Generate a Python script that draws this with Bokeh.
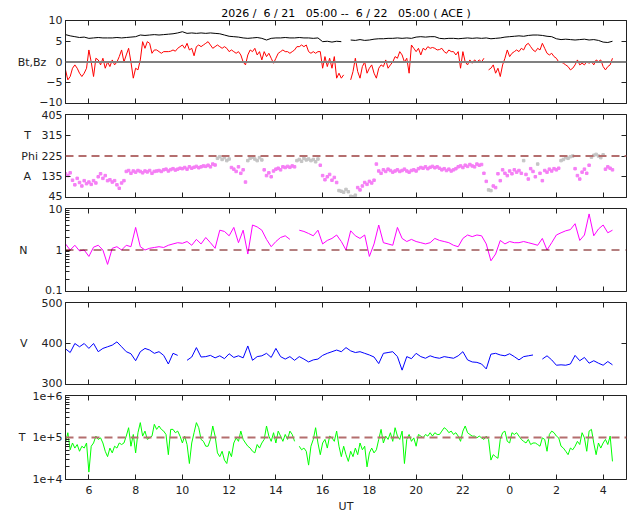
from bokeh.plotting import figure
from bokeh.layouts import column
from bokeh.models import Range1d, FixedTicker, LinearAxis, Span, CustomLabelingPolicy
from bokeh.embed import file_html
from bokeh.resources import INLINE

NaN = float("nan")

# ---------------- data ----------------
T_START = 5.0        # hours UT of first sample (21 June 05:00)
STEP = 0.2           # hours between samples (Bt, N, V)
FINE_STEP = 0.1      # hours between samples (Bz, Phi, T)
X_MIN, X_MAX = 5.0, 29.0
X_TICKS = [6, 8, 10, 12, 14, 16, 18, 20, 22, 24, 26, 28]
X_TICK_LABELS = ["6", "8", "10", "12", "14", "16", "18", "20", "22", "0", "2", "4"]

bt = [6.6, 6.3, 6.1, 5.9, 6.0, 5.7, 5.8, 5.9, 5.8, 5.8,
      5.8, 5.9, 5.8, 5.9, 6.0, 6.1, 6.5, 6.4, 6.5, 6.6,
      6.5, 6.6, 6.7, 6.8, 7.0, 7.3, 6.9, 7.0, 6.9, 7.0,
      6.9, 7.0, 6.9, 6.8, 6.5, 6.2, 6.1, 6.0, 5.8, 5.7,
      5.8, 5.9, 5.7, 5.3, 5.7, 5.8, 5.8, 5.9, 5.8, 5.8,
      5.9, 5.8, 5.8, 5.7, 5.8, 4.9, 5.0, 4.8, 5.0, 4.9,
      NaN, 5.3, 5.2, 5.4, 5.2, 5.3, 5.5, 5.6, 5.6, 5.7,
      5.7, 5.8, 5.7, 5.8, 5.7, 6.0, 6.1, 6.0, 6.1, 6.1,
      5.7, 5.6, 5.7, 5.7, 5.6, 5.7, 5.8, 5.7, 5.8, 5.7,
      5.8, 5.6, 5.7, 5.8, 6.0, 6.1, 6.2, 6.3, 6.2, 6.4,
      6.5, 6.5, 6.4, 6.2, 6.1, 5.6, 5.4, 5.5, 5.4, 5.3,
      5.4, 5.5, 5.3, 5.4, 5.2, 4.8, 4.7, 5.0]

bz = [-1.9, -4.3, -3.5, -1.5, -0.7, -1.5, -2.7, -3.5, -2.7, -1.5,
      2.9, 0.0, -3.5, 0.9, 0.5, -0.7, 0.9, -1.5, 0.0, -1.1,
      0.5, -0.7, 0.0, 1.3, 2.9, 0.0, 1.7, 3.3, 0.0, -3.9,
      -1.5, -1.9, 0.5, 4.9, 3.3, 4.9, 4.5, 2.1, 2.9, 2.9,
      2.5, 2.1, 2.5, 2.5, 2.5, 2.6, 2.9, 2.6, 3.3, 3.7,
      4.1, 3.3, 4.5, 2.9, 3.3, 1.5, 3.7, 4.1, 3.7, 4.1,
      4.5, 4.9, 4.1, 3.3, 3.7, 4.1, 3.7, 3.3, 3.7, 3.3,
      2.5, 2.9, 2.5, 2.1, 2.5, 1.7, 0.0, -0.7, 1.7, 2.9,
      2.5, 3.3, 1.7, 2.5, 0.5, 2.5, 1.3, 2.1, 0.9, -0.3,
      0.9, 2.1, 2.5, 2.9, 2.5, 2.5, 2.1, 2.5, 2.9, 3.7,
      3.7, 4.1, 3.7, 4.1, 2.5, 2.1, 2.5, 2.1, 2.5, 2.5,
      -1.5, 1.3, -1.1, 0.9, -1.5, 1.3, -3.9, -2.7, -3.9, -3.1,
      NaN, NaN, -4.3, -2.3, 0.9, -2.3, -3.9, -1.1, 0.0, -2.7,
      -1.5, -0.7, -2.7, -3.9, -1.5, -0.7, -1.1, 0.5, -1.5, -0.7,
      0.0, 1.3, 0.9, 2.5, 1.7, 0.0, 0.9, -2.7, 4.1, 3.3,
      2.5, 3.3, 1.7, 3.3, 2.9, 3.7, 3.3, 3.5, 3.3, 2.9,
      3.0, 3.3, 2.5, 2.1, 2.9, 2.5, 2.5, 1.7, 2.5, -1.5,
      2.5, 0.0, -0.7, 0.5, -0.3, 0.5, 0.0, 0.5, 0.0, 0.9,
      NaN, -1.9, -1.5, -0.7, -2.7, -1.5, -3.5, -0.7, 0.9, 2.9,
      1.3, 2.1, 2.5, 2.9, 2.5, 3.3, 2.9, 4.1, 4.5, 3.7,
      2.9, 2.5, 3.3, 2.9, 4.5, 3.3, 2.1, 1.7, 2.1, 1.3,
      0.9, 0.0, 0.0, -0.3, -0.7, -1.1, -1.9, -1.5, -0.7, 0.5,
      -0.7, -0.3, -0.7, 0.1, -0.3, 0.1, -0.7, 0.5, 0.1, 0.5,
      -1.1, -1.9, -1.1, -0.7, 0.9]

phi = [148, 140, 152, 120, 100, 128, 110, 95, 118, 105,
       112, 102, 118, 108, 135, 148, 128, 140, 118, 122,
       112, 118, 100, 85, 108, 118, 158, 162, 150, 160,
       155, 162, 158, 152, 160, 156, 162, 150, 158, 160,
       162, 158, 165, 168, 160, 166, 170, 164, 168, 172,
       170, 175, 168, 178, 172, 176, 180, 174, 178, 182,
       180, 185, 178, 190, 186, 215, 222, 210, 218, 205,
       212, 175, 168, 158, 178, 150, 165, 112, 205, 215,
       220, 212, 205, 218, 208, 165, 140, 152, 135, 160,
       168, 172, 165, 178, 175, 180, 176, 182, 178, 205,
       210, 202, 215, 208, 212, 205, 210, 200, 212, 185,
       140, 122, 135, 145, 120, 132, 110, 75, 72, 68,
       80, 70, 50, 48, 55, 88, 78, 95, 110, 102,
       115, 108, 120, 190, 160, 150, 165, 158, 168, 162,
       155, 160, 165, 158, 162, 168, 160, 155, 162, 165,
       160, 170, 175, 172, 178, 170, 176, 180, 174, 178,
       172, 165, 170, 162, 168, 160, 165, 170, 178, 182,
       175, 185, 180, 188, 182, 178, 190, 185, 188, 150,
       115, 78, 75, 95, 88, 148, 118, 165, 150, 140,
       160, 148, 165, 155, 162, 150, 205, 145, 125, 170,
       158, 135, 190, 150, 118, 162, 155, 168, 160, 170,
       165, 172, 205, 210, 218, 215, 222, 225, 170, 140,
       125, 155, 168, 150, 185, 220, 228, 232, 225, 218,
       230, 168, 178, 172, 165]

# time spans (hours) whose Phi points are drawn grey
phi_grey_spans = [(11.45, 12.05), (12.75, 13.45), (14.85, 15.85), (16.65, 17.45),
                  (23.05, 23.25), (24.55, 24.65), (25.15, 25.25), (26.15, 26.75),
                  (27.45, 28.05)]

density = [1.4, 1.0, 1.3, 0.95, 1.0, 0.7, 1.17, 1.3, 1.0, 0.45,
           1.1, 1.2, 1.0, 1.3, 1.2, 3.5, 1.2, 1.0, 1.1, 1.15,
           1.2, 1.15, 1.3, 1.4, 1.5, 1.45, 1.6, 1.3, 1.8, 1.4,
           2.0, 1.5, 1.1, 3.0, 2.8, 2.2, 3.5, 1.5, 3.0, 0.8,
           4.0, 3.6, 3.0, 1.8, 1.2, 1.6, 2.0, 2.2, 1.8, NaN,
           3.0, 2.8, 2.5, 2.2, 3.0, 1.4, 1.7, 1.9, 2.3, 1.6,
           1.0, 2.9, 2.2, 1.9, 2.3, 0.7, 1.4, 4.0, 1.5, 1.4,
           1.3, 3.5, 1.9, 1.6, 1.8, 1.6, 1.5, 1.4, 1.5, 1.9,
           1.7, 1.6, 1.5, 1.3, 1.2, 1.9, 2.3, 2.1, 2.3, 2.2,
           1.4, 0.55, 0.8, 1.7, 1.4, 1.6, 1.5, 1.5, 1.6, 1.5,
           1.4, 1.3, 1.9, 1.0, 1.5, 2.3, 2.6, 2.9, 3.1, 4.3,
           1.7, 2.3, 7.4, 2.2, 3.2, 4.0, 2.6, 3.0]

speed = [387, 378, 400, 392, 400, 388, 400, 380, 388, 392,
         396, 404, 392, 380, 375, 358, 380, 388, 384, 376,
         380, 371, 350, 376, 371, NaN, 359, 367, 390, 367,
         368, 371, 365, 370, 363, 375, 366, 370, 365, 394,
         359, 368, 370, 376, 366, 388, 368, 362, 368, 359,
         368, 362, 355, 360, 362, 371, 376, 380, 384, 380,
         390, 382, 378, 380, 376, 372, 367, 351, 376, 378,
         380, 368, 335, 368, 363, 376, 368, 364, 370, 366,
         364, 368, 366, 364, 370, 380, 360, 355, 354, 350,
         338, 374, 376, 372, 370, 375, 368, 360, 368, 370,
         372, NaN, 362, 370, 360, 347, 348, 347, 350, 371,
         358, 366, 352, 358, 352, 347, 356, 348]

temperature = [74e3, 130e3, 51e3, 74e3, 56e3, 68e3, 47e3, 62e3, 56e3, 74e3,
               15e3, 62e3, 74e3, 108e3, 90e3, 98e3, 74e3, 47e3, 35e3, 56e3,
               43e3, 62e3, 56e3, 74e3, 68e3, 74e3, 108e3, 171e3, 62e3, 118e3,
               43e3, 130e3, 226e3, 108e3, 142e3, 90e3, 98e3, 108e3, 206e3, 156e3,
               188e3, 156e3, 142e3, 118e3, 39e3, 156e3, 156e3, 130e3, 142e3, 108e3,
               74e3, 108e3, 68e3, 24e3, 74e3, 130e3, 226e3, 171e3, 90e3, 81e3,
               62e3, 62e3, 90e3, 188e3, 108e3, 43e3, 35e3, 47e3, 29e3, 24e3,
               47e3, 35e3, 74e3, 98e3, 81e3, 142e3, 90e3, 74e3, 62e3, 56e3,
               47e3, 43e3, 68e3, 56e3, 74e3, 90e3, 188e3, 108e3, 81e3, 130e3,
               74e3, 142e3, 108e3, 81e3, 118e3, 90e3, 142e3, 118e3, 81e3, NaN,
               62e3, 51e3, 56e3, 47e3, 22e3, 62e3, 90e3, 171e3, 74e3, 39e3,
               74e3, 90e3, 56e3, 108e3, 98e3, 81e3, 142e3, 62e3, 35e3, 62e3,
               39e3, 27e3, 47e3, 35e3, 56e3, 39e3, 74e3, 51e3, 62e3, 20e3,
               43e3, 56e3, 43e3, 51e3, 90e3, 156e3, 74e3, 108e3, 90e3, 130e3,
               81e3, 171e3, 108e3, 90e3, 142e3, 24e3, 90e3, 118e3, 81e3, 98e3,
               62e3, 118e3, 108e3, 98e3, 118e3, 108e3, 130e3, 108e3, 130e3, 118e3,
               118e3, 142e3, 171e3, 156e3, 130e3, 142e3, 118e3, 130e3, 108e3, 81e3,
               142e3, 188e3, 130e3, 118e3, 108e3, 108e3, 98e3, 108e3, 98e3, 90e3,
               108e3, 90e3, 29e3, 39e3, 35e3, 32e3, 90e3, 130e3, 142e3, 81e3,
               74e3, 130e3, 118e3, 130e3, 108e3, 90e3, 81e3, 74e3, 90e3, 68e3,
               74e3, 74e3, 68e3, 62e3, 98e3, 90e3, 47e3, 118e3, 142e3, 130e3,
               108e3, 98e3, 62e3, 56e3, 47e3, 39e3, 56e3, 51e3, 62e3, 81e3,
               68e3, 130e3, 98e3, 47e3, 142e3, 156e3, 74e3, 39e3, 74e3, 56e3,
               74e3, 90e3, 68e3, 108e3, 27e3]

TITLE = "2026 /\u00a0\u00a06 / 21\u00a0\u00a0\u00a005:00 --\u00a0\u00a06 / 22\u00a0\u00a0\u00a005:00 ( ACE )"


def times(n, step):
    return [round(T_START + step * i, 3) for i in range(n)]


# ---------------- styling helpers ----------------
FONT = "DejaVu Sans"
INK = "#222222"
NB = "\u00a0"
THIN = "\u2009"
x_range = Range1d(X_MIN, X_MAX)


def no_labels():
    return CustomLabelingPolicy(code="""
        const all = Array.from(indices)
        for (const i of all) indices.unset(i)
        return indices
    """)


def style_axis(ax, labels, standoff=3):
    ax.axis_line_color = INK
    ax.major_tick_line_color = INK
    ax.minor_tick_line_color = INK
    ax.major_tick_in = 5
    ax.major_tick_out = 0
    ax.minor_tick_in = 0
    ax.minor_tick_out = 0
    ax.major_label_text_font = FONT
    ax.major_label_text_color = INK
    if labels:
        ax.major_label_text_font_size = "11px"
        ax.major_label_standoff = standoff
    else:
        ax.major_label_text_font_size = "0px"
        ax.major_label_standoff = 0
        ax.major_label_policy = no_labels()


def make_panel(y_min, y_max, y_ticks, right_ticks, overrides, log=False,
               minor=None, frame_h=83, top=6, bottom=5, last=False):
    p = figure(frame_width=561, frame_height=frame_h, x_range=x_range,
               y_range=Range1d(y_min, y_max),
               y_axis_type="log" if log else "linear",
               output_backend="svg", toolbar_location=None,
               min_border_left=65, min_border_right=8,
               min_border_top=top, min_border_bottom=bottom)
    p.grid.visible = False
    p.outline_line_color = INK
    p.outline_line_width = 1
    p.background_fill_color = "white"
    p.border_fill_color = "white"

    xa = p.xaxis[0]
    xa.ticker = FixedTicker(ticks=X_TICKS)
    xa.major_label_overrides = {t: s for t, s in zip(X_TICKS, X_TICK_LABELS)}
    style_axis(xa, labels=last, standoff=6)
    if last:
        xa.axis_label = "UT"
        xa.axis_label_text_font = FONT
        xa.axis_label_text_font_size = "11px"
        xa.axis_label_text_font_style = "normal"
        xa.axis_label_text_color = INK
        xa.axis_label_standoff = 3

    top_ax = LinearAxis(ticker=FixedTicker(ticks=X_TICKS))
    style_axis(top_ax, labels=False)
    p.add_layout(top_ax, "above")

    # left axis: numbers, with the quantity name written in front of one tick
    ya = p.yaxis[0]
    ya.ticker = FixedTicker(ticks=y_ticks, minor_ticks=minor or [])
    style_axis(ya, labels=True, standoff=3)
    if minor:
        ya.minor_tick_in = 4
    ya.major_label_overrides = overrides

    if right_ticks:
        ra = LinearAxis(ticker=FixedTicker(ticks=right_ticks))
        style_axis(ra, labels=False)
        p.add_layout(ra, "right")
    return p


# ---------------- panel 1: Bt, Bz ----------------
p1 = make_panel(-10, 10, [-10, -5, 0, 5, 10], [-5, 0, 5],
                {0: "Bt,Bz" + NB * 2 + THIN + "0"}, top=20)
p1.title.text = TITLE
p1.title.align = "center"
p1.title.text_font = FONT
p1.title.text_font_size = "11px"
p1.title.text_font_style = "normal"
p1.title.text_color = "black"
p1.title.standoff = 1
p1.line(times(len(bt), STEP), bt, line_color="black", line_width=1)
p1.line(times(len(bz), FINE_STEP), bz, line_color="#ff0000", line_width=1)
p1.add_layout(Span(location=0, dimension="width", line_color="#808080", line_width=2))

# ---------------- panel 2: Phi ----------------
p2 = make_panel(45, 405, [45, 135, 225, 315, 405], [135, 225, 315],
                {135: "A" + NB * 3 + "135", 225: "Phi" + NB + "225",
                 315: "T" + NB * 3 + "315"})
p2.add_layout(Span(location=225, dimension="width", line_color="#b46e6e",
                   line_width=2, line_dash="8 5"))
t_phi = times(len(phi), FINE_STEP)
is_grey = [any(a <= t <= b for a, b in phi_grey_spans) for t in t_phi]
p2.scatter([t for t, g in zip(t_phi, is_grey) if not g],
           [v for v, g in zip(phi, is_grey) if not g],
           marker="square", size=2.5, color="#f57ff5")
p2.scatter([t for t, g in zip(t_phi, is_grey) if g],
           [v for v, g in zip(phi, is_grey) if g],
           marker="square", size=2.5, color="#c4c4c4")

# ---------------- panel 3: N ----------------
n_minor = [k * 0.1 for k in range(2, 10)] + [float(k) for k in range(2, 10)]
p3 = make_panel(0.1, 10, [0.1, 1, 10], None,
                {0.1: "0.1", 1: "N" + NB * 8 + "1", 10: "10"},
                log=True, minor=n_minor)
p3.add_layout(Span(location=1, dimension="width", line_color="#6b0000",
                   line_width=1, line_dash="8 6"))
p3.line(times(len(density), STEP), density, line_color="#ff00ff", line_width=1)

# ---------------- panel 4: V ----------------
p4 = make_panel(300, 500, [300, 400, 500], [400], {400: "V" + NB * 4 + "400"},
                frame_h=82)
p4.line(times(len(speed), STEP), speed, line_color="#0000ff", line_width=1)

# ---------------- panel 5: T ----------------
t_minor = [k * 1e4 for k in range(2, 10)] + [k * 1e5 for k in range(2, 10)]
p5 = make_panel(1e4, 1e6, [1e4, 1e5, 1e6], None,
                {10000: "1e+4", 100000: "T" + NB * 2 + "1e+5", 1000000: "1e+6"},
                log=True, minor=t_minor, frame_h=84, bottom=20, last=True)
p5.line(times(len(temperature), FINE_STEP), temperature, line_color="#00ff00", line_width=1)
p5.add_layout(Span(location=1e5, dimension="width", line_color="#b46e6e",
                   line_width=2, line_dash="8 5"))

layout = column(p1, p2, p3, p4, p5, spacing=0)
open("out.html", "w").write(file_html(layout, INLINE))
